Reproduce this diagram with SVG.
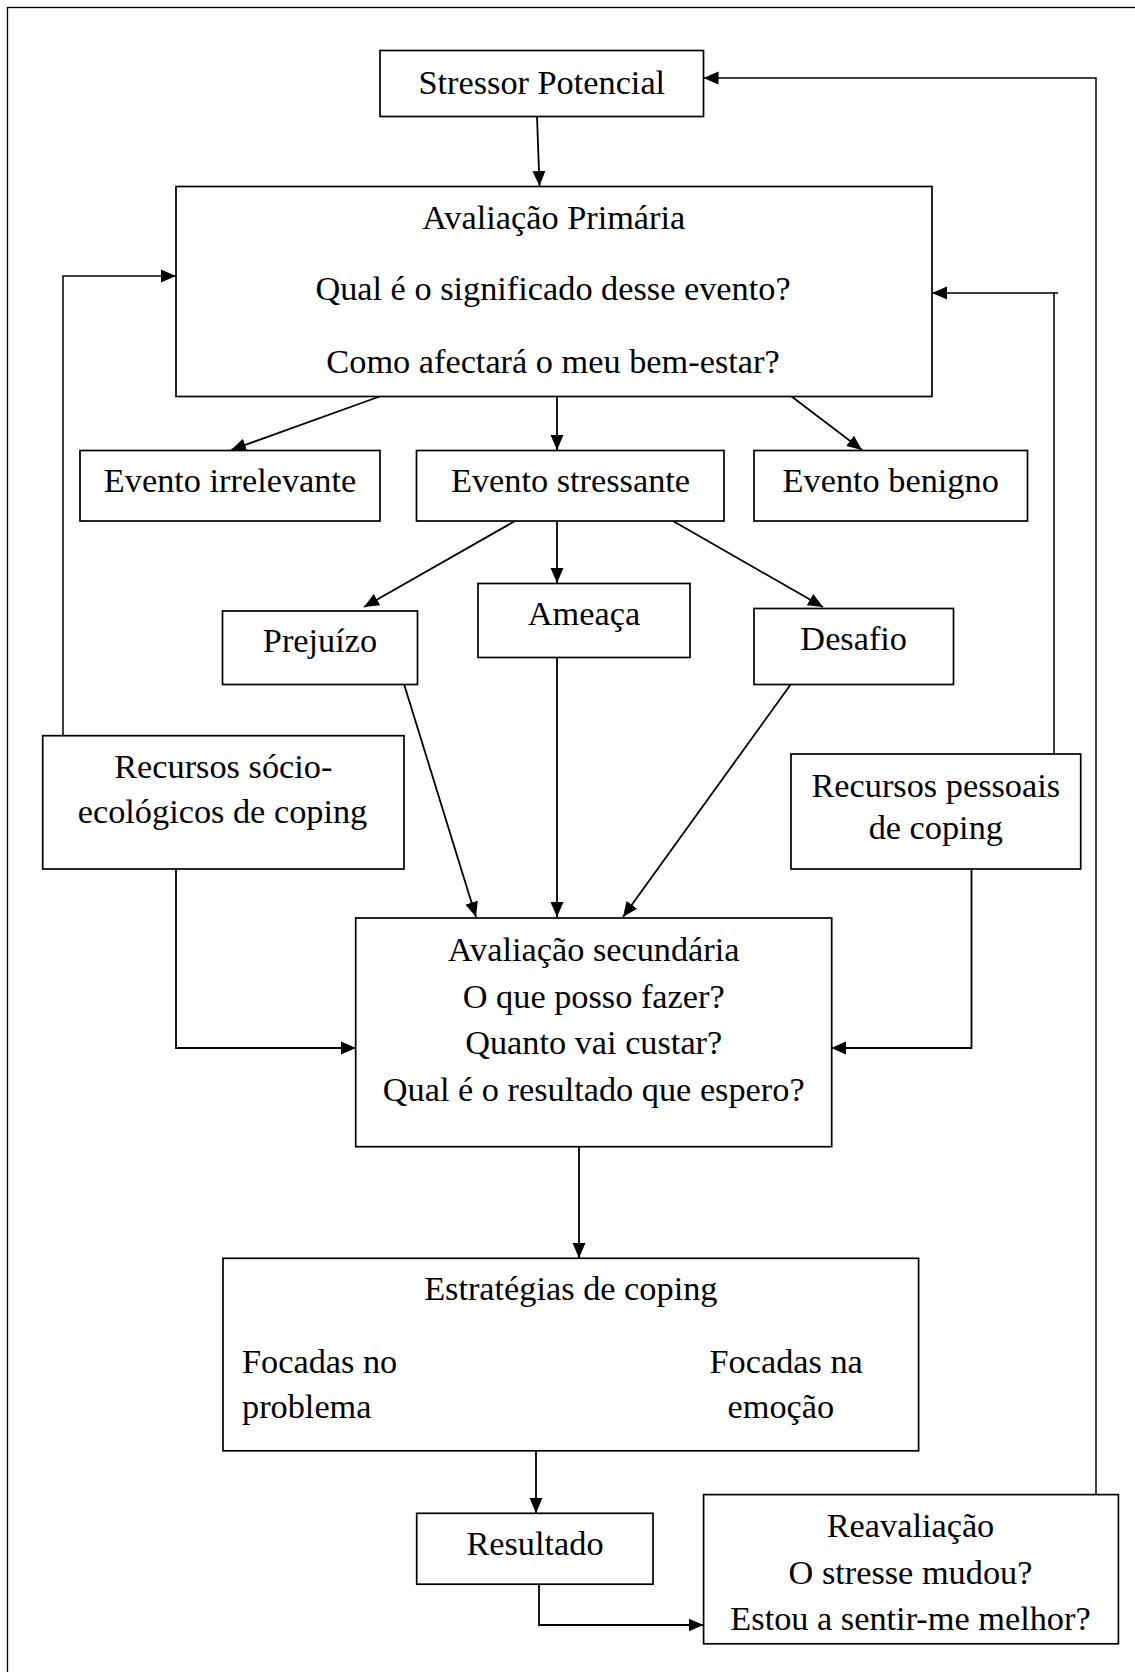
<svg xmlns="http://www.w3.org/2000/svg" width="1135" height="1672" viewBox="0 0 1135 1672">
<style>
.box{fill:#fff;stroke:#000;stroke-width:1.7}
.t{font-family:"Liberation Serif","Times New Roman",serif;font-size:34.3px;fill:#000}
.c{text-anchor:middle}
.ln{fill:none;stroke:#000;stroke-width:1.8}
.fb{fill:none;stroke:#000;stroke-width:1.5}
</style>
<defs>
<marker id="ah" markerUnits="userSpaceOnUse" markerWidth="15" markerHeight="14" refX="15" refY="7" orient="auto">
<path d="M0,0.5 L15,7 L0,13.5 z" fill="#000"/>
</marker>
</defs>
<rect width="1135" height="1672" fill="#fff"/>
<rect x="7.5" y="7.5" width="1200" height="1700" fill="none" stroke="#000" stroke-width="1.3"/>

<g id="connectors">
<line class="ln" x1="537" y1="116" x2="539.5" y2="186" marker-end="url(#ah)"/>
<line class="ln" x1="381" y1="396" x2="231" y2="450" marker-end="url(#ah)"/>
<line class="ln" x1="557" y1="396" x2="557" y2="450" marker-end="url(#ah)"/>
<line class="ln" x1="791" y1="396" x2="862" y2="450" marker-end="url(#ah)"/>
<line class="ln" x1="515" y1="521" x2="364" y2="607" marker-end="url(#ah)"/>
<line class="ln" x1="557" y1="521" x2="557" y2="583" marker-end="url(#ah)"/>
<line class="ln" x1="673" y1="521" x2="823" y2="607" marker-end="url(#ah)"/>
<line class="ln" x1="404" y1="684" x2="476" y2="917" marker-end="url(#ah)"/>
<line class="ln" x1="557" y1="657" x2="557" y2="917" marker-end="url(#ah)"/>
<line class="ln" x1="791" y1="684" x2="623" y2="917" marker-end="url(#ah)"/>
<polyline class="ln" points="176,869 176,1048 356,1048" marker-end="url(#ah)"/>
<polyline class="ln" points="971.5,869 971.5,1048 831,1048" marker-end="url(#ah)"/>
<polyline class="fb" points="63,736 63,276 176,276" marker-end="url(#ah)"/>
<polyline class="fb" points="1054,754 1054,293 932,293" marker-end="url(#ah)"/>
<line class="fb" x1="1054" y1="293" x2="1058" y2="293"/>
<line class="ln" x1="579" y1="1147" x2="579" y2="1258" marker-end="url(#ah)"/>
<line class="ln" x1="478" y1="1304" x2="357" y2="1350" marker-end="url(#ah)"/>
<line class="ln" x1="673" y1="1304" x2="790" y2="1350" marker-end="url(#ah)"/>
<line class="ln" x1="536" y1="1451" x2="536" y2="1513" marker-end="url(#ah)"/>
<polyline class="ln" points="539,1584 539,1625 703.5,1625" marker-end="url(#ah)"/>
<polyline class="fb" points="1096,1494.5 1096,78 703.5,78" marker-end="url(#ah)"/>
</g>

<g id="stressor">
<rect class="box" x="380" y="50.5" width="323.5" height="66"/>
<text class="t c" x="541.8" y="93.5">Stressor Potencial</text>
</g>

<g id="primaria">
<rect class="box" x="176" y="186.5" width="756" height="210"/>
<text class="t c" x="553.7" y="229">Avaliação Primária</text>
<text class="t c" x="553" y="300">Qual é o significado desse evento?</text>
<text class="t c" x="553" y="373">Como afectará o meu bem-estar?</text>
</g>

<g id="irrelevante">
<rect class="box" x="80" y="450.5" width="300" height="70.5"/>
<text class="t c" x="230" y="492">Evento irrelevante</text>
</g>

<g id="stressante">
<rect class="box" x="416.5" y="450.5" width="307.5" height="70.5"/>
<text class="t c" x="570.5" y="492">Evento stressante</text>
</g>

<g id="benigno">
<rect class="box" x="754" y="450.5" width="273.5" height="70.5"/>
<text class="t c" x="890.7" y="492">Evento benigno</text>
</g>

<g id="prejuizo">
<rect class="box" x="222.5" y="611" width="195" height="73.5"/>
<text class="t c" x="320" y="652.3">Prejuízo</text>
</g>

<g id="ameaca">
<rect class="box" x="478" y="583.5" width="212" height="74"/>
<text class="t c" x="584" y="625">Ameaça</text>
</g>

<g id="desafio">
<rect class="box" x="754" y="608.5" width="199.5" height="76"/>
<text class="t c" x="853.7" y="650">Desafio</text>
</g>

<g id="socio">
<rect class="box" x="42.7" y="735.7" width="361.3" height="133.3"/>
<text class="t c" x="223.3" y="778">Recursos sócio-</text>
<text class="t c" x="222.5" y="823">ecológicos de coping</text>
</g>

<g id="pessoais">
<rect class="box" x="791" y="754" width="289.7" height="115"/>
<text class="t c" x="935.8" y="797">Recursos pessoais</text>
<text class="t c" x="935.8" y="839">de coping</text>
</g>

<g id="secundaria">
<rect class="box" x="355.7" y="918" width="476" height="228.7"/>
<text class="t c" x="593.7" y="961">Avaliação secundária</text>
<text class="t c" x="593.7" y="1007.5">O que posso fazer?</text>
<text class="t c" x="593.7" y="1054">Quanto vai custar?</text>
<text class="t c" x="593.7" y="1100.5">Qual é o resultado que espero?</text>
</g>

<g id="estrategias">
<rect class="box" x="223" y="1258.3" width="695.6" height="192.5"/>
<text class="t c" x="570.8" y="1300">Estratégias de coping</text>
<text class="t" x="242" y="1373">Focadas no</text>
<text class="t" x="242" y="1418">problema</text>
<text class="t" x="709.5" y="1373">Focadas na</text>
<text class="t" x="727.5" y="1418">emoção</text>
</g>

<g id="resultado">
<rect class="box" x="416.7" y="1513.3" width="236.3" height="70.9"/>
<text class="t c" x="535" y="1555">Resultado</text>
</g>

<g id="reavaliacao">
<rect class="box" x="703.6" y="1494.6" width="414.8" height="149.2"/>
<text class="t c" x="910.5" y="1537">Reavaliação</text>
<text class="t c" x="910.5" y="1584">O stresse mudou?</text>
<text class="t c" x="910.5" y="1630">Estou a sentir-me melhor?</text>
</g>
</svg>
